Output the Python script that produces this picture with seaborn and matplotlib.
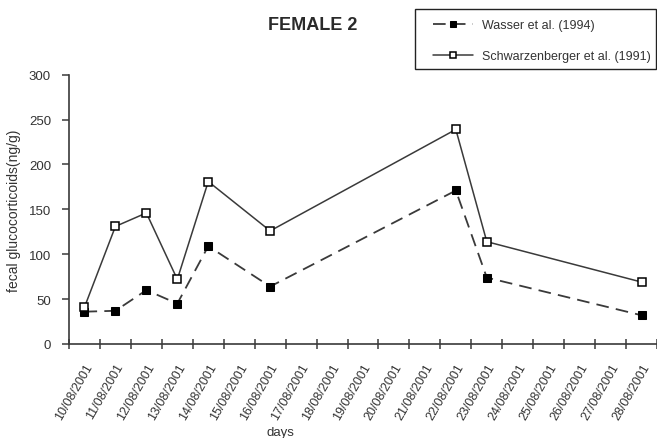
import matplotlib
matplotlib.use("Agg")
import matplotlib.pyplot as plt
from matplotlib.patches import Rectangle
import numpy as np
import pandas as pd
import seaborn as sns

# category axis: every day from 10/08 to 28/08/2001
days = ['10/08/2001', '11/08/2001', '12/08/2001', '13/08/2001', '14/08/2001',
        '15/08/2001', '16/08/2001', '17/08/2001', '18/08/2001', '19/08/2001',
        '20/08/2001', '21/08/2001', '22/08/2001', '23/08/2001', '24/08/2001',
        '25/08/2001', '26/08/2001', '27/08/2001', '28/08/2001']

sample_days = ['10/08/2001', '11/08/2001', '12/08/2001', '13/08/2001', '14/08/2001',
               '16/08/2001', '22/08/2001', '23/08/2001', '28/08/2001']
wasser = [36, 37, 60, 45, 109, 64, 171, 74, 32]
schwarz = [41, 131, 146, 72, 181, 126, 239, 114, 69]

sns.set_style('ticks')
plt.rcParams['font.family'] = ['Liberation Sans', 'DejaVu Sans']

grey = '#3a3a3a'
text_grey = '#333333'

df = pd.DataFrame({'day': sample_days, 'wasser': wasser, 'schwarz': schwarz})
df['pos'] = df['day'].apply(lambda d: days.index(d))

fig = plt.figure(figsize=(6.57, 4.39), dpi=100)
ax = fig.add_axes([69 / 657, 1 - 345 / 439, (657 - 69) / 657, (345 - 75.7) / 439])

sns.lineplot(data=df, x='pos', y='wasser', ax=ax, color=grey, linewidth=1.3,
             linestyle=(0, (7, 4)), marker='s', markersize=6.3,
             markerfacecolor='black', markeredgecolor='black',
             label='Wasser et al. (1994)')
sns.lineplot(data=df, x='pos', y='schwarz', ax=ax, color=grey, linewidth=1.1,
             marker='s', markersize=6.3, markerfacecolor='white',
             markeredgecolor='black', markeredgewidth=1.1,
             label='Schwarzenberger et al. (1991)')

ax.set_xlim(-0.5, 18.41)
ax.set_ylim(0, 300)
ax.set_yticks(np.arange(0, 301, 50))
ax.set_xticks(np.arange(len(days)))
ax.set_xticklabels(days, rotation=60, ha='right', rotation_mode='anchor',
                   fontsize=9, color=text_grey)
ax.set_xticks(np.arange(len(days) + 1) - 0.5, minor=True)
ax.tick_params(axis='x', which='major', length=0, pad=12)
ax.tick_params(axis='x', which='minor', length=7, direction='inout',
               width=1.1, color=grey)
ax.tick_params(axis='y', length=5, width=1.1, color=grey, pad=8,
               labelsize=9.5, labelcolor=text_grey)

sns.despine(ax=ax)
for s in ['left', 'bottom']:
    ax.spines[s].set_color(grey)
    ax.spines[s].set_linewidth(1.2)

ax.set_ylabel('fecal glucocorticoids(ng/g)', fontsize=10, color=text_grey)
ax.yaxis.set_label_coords(-0.082, 0.5)
ax.set_xlabel('days', fontsize=9.5, color=text_grey, va='center')
ax.xaxis.set_label_coords(0.36, -0.327)

fig.text(313 / 657, 1 - 25 / 439, 'FEMALE 2', ha='center', va='center',
         fontsize=13, fontweight='bold', color='#2a2a2a')

# legend box sits above the plot, right corner
handles, labels = ax.get_legend_handles_labels()
ax.get_legend().remove()
fig.patches.append(Rectangle((415 / 657, 1 - 70 / 439), 241 / 657, 60 / 439,
                             transform=fig.transFigure, fill=False,
                             edgecolor='#222222', linewidth=1.0))
leg = fig.legend(handles, labels, loc='center left',
                 bbox_to_anchor=(433 / 657, 1 - 41.5 / 439),
                 fontsize=9, frameon=False, markerscale=0.75,
                 handlelength=3.2, labelspacing=1.5, borderpad=0,
                 handletextpad=0.7, borderaxespad=0)
for t in leg.get_texts():
    t.set_color(text_grey)

plt.savefig('out.png', dpi=100)
